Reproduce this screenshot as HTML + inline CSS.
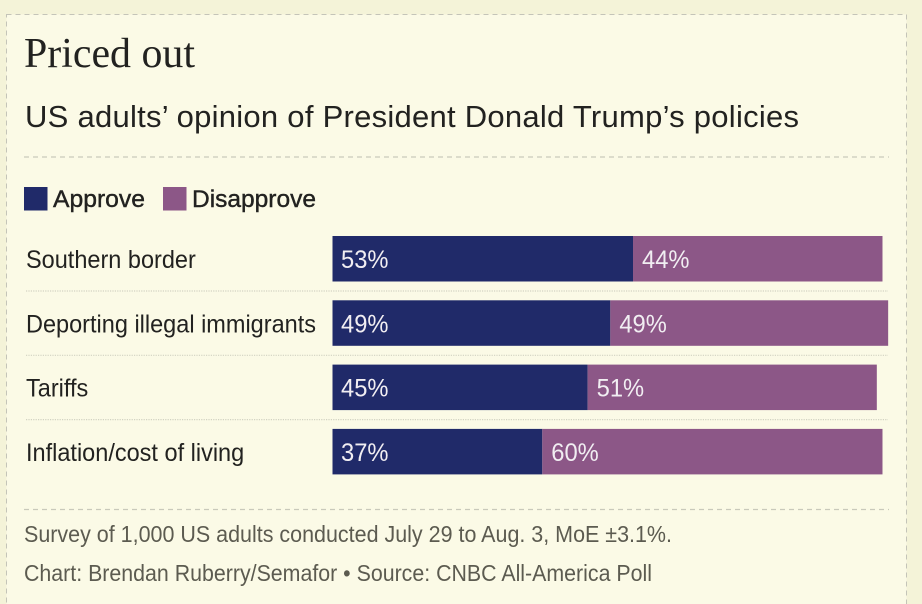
<!DOCTYPE html>
<html lang="en">
<head>
<meta charset="utf-8">
<title>Priced out</title>
<style>
html,body{margin:0;padding:0;width:922px;height:604px;overflow:hidden;background:#f4f3d8;}
svg{display:block;}
text{font-family:"Liberation Sans",sans-serif;}
</style>
</head>
<body>
<svg id="chart" xmlns="http://www.w3.org/2000/svg" width="922" height="604" viewBox="0 0 922 604">
  <rect x="0" y="0" width="922" height="604" fill="#f4f3d8"/>
  <rect x="6.5" y="14.5" width="900" height="600" fill="#fbfae6" stroke="#c4c4b8" stroke-width="1" stroke-dasharray="5 4"/>
  <text x="24" y="67" font-size="42" textLength="171" lengthAdjust="spacingAndGlyphs" style="font-family:'Liberation Serif',serif" fill="#222220">Priced out</text>
  <text x="25" y="127" font-size="31" textLength="774" lengthAdjust="spacing" fill="#222220">US adults’ opinion of President Donald Trump’s policies</text>
  <line x1="24" y1="157" x2="889" y2="157" stroke="#c9c9bb" stroke-width="1.2" stroke-dasharray="5 4"/>
  <rect x="24" y="187" width="23.5" height="23.5" fill="#202a69"/>
  <text x="53" y="207" font-size="24" textLength="92" lengthAdjust="spacingAndGlyphs" fill="#222220" stroke="#222220" stroke-width="0.4">Approve</text>
  <rect x="163" y="187" width="23.5" height="23.5" fill="#8c5787"/>
  <text x="192" y="207" font-size="24" textLength="124" lengthAdjust="spacingAndGlyphs" fill="#222220" stroke="#222220" stroke-width="0.4">Disapprove</text>
  <g id="rows"></g>
  <line x1="24" y1="509.5" x2="889" y2="509.5" stroke="#c9c9bb" stroke-width="1.2" stroke-dasharray="5 4"/>
  <text x="24" y="542" font-size="23" textLength="648" lengthAdjust="spacingAndGlyphs" fill="#5c5b50">Survey of 1,000 US adults conducted July 29 to Aug. 3, MoE ±3.1%.</text>
  <text x="24" y="581" font-size="23" textLength="628" lengthAdjust="spacingAndGlyphs" fill="#5c5b50">Chart: Brendan Ruberry/Semafor • Source: CNBC All-America Poll</text>
</svg>
<script>
const categories = ["Southern border", "Deporting illegal immigrants", "Tariffs", "Inflation/cost of living"];
const approveValues = [53, 49, 45, 37];
const disapproveValues = [44, 49, 51, 60];

const NS = "http://www.w3.org/2000/svg";
const rowsGroup = document.getElementById("rows");
const barLeft = 332.5;
const pxPerPercent = 5.67;
const rowTop = 236;
const rowStep = 64.3;
const barHeight = 45.5;
const xScale = function (v) { return barLeft + v * pxPerPercent; };
const yScale = function (i) { return rowTop + i * rowStep; };

function condense(el, factor) {
  const w = el.getComputedTextLength();
  el.setAttribute("textLength", (w * factor).toFixed(1));
  el.setAttribute("lengthAdjust", "spacingAndGlyphs");
}

categories.forEach(function (name, i) {
  const y = yScale(i);
  const baseline = y + 32;

  const label = document.createElementNS(NS, "text");
  
  
  label.setAttribute("x", 26);
  label.setAttribute("y", baseline);
  label.setAttribute("font-size", 25);
  label.setAttribute("fill", "#222220");
  label.textContent = name;
  rowsGroup.appendChild(label);
  condense(label, 0.94);

  const approveEnd = xScale(approveValues[i]);
  const disapproveEnd = xScale(approveValues[i] + disapproveValues[i]);

  const approveBar = document.createElementNS(NS, "rect");
  
  
  approveBar.setAttribute("x", barLeft);
  approveBar.setAttribute("y", y);
  approveBar.setAttribute("width", approveEnd - barLeft);
  approveBar.setAttribute("height", barHeight);
  approveBar.setAttribute("fill", "#202a69");
  rowsGroup.appendChild(approveBar);

  const disapproveBar = document.createElementNS(NS, "rect");
  
  
  disapproveBar.setAttribute("x", approveEnd);
  disapproveBar.setAttribute("y", y);
  disapproveBar.setAttribute("width", disapproveEnd - approveEnd);
  disapproveBar.setAttribute("height", barHeight);
  disapproveBar.setAttribute("fill", "#8c5787");
  rowsGroup.appendChild(disapproveBar);

  const approveText = document.createElementNS(NS, "text");
  
  
  approveText.setAttribute("x", barLeft + 8.5);
  approveText.setAttribute("y", baseline);
  approveText.setAttribute("font-size", 25);
  approveText.setAttribute("fill", "#f1eef2");
  approveText.textContent = approveValues[i] + "%";
  rowsGroup.appendChild(approveText);
  condense(approveText, 0.95);

  const disapproveText = document.createElementNS(NS, "text");
  
  
  disapproveText.setAttribute("x", approveEnd + 9);
  disapproveText.setAttribute("y", baseline);
  disapproveText.setAttribute("font-size", 25);
  disapproveText.setAttribute("fill", "#f1eef2");
  disapproveText.textContent = disapproveValues[i] + "%";
  rowsGroup.appendChild(disapproveText);
  condense(disapproveText, 0.95);

  if (i < categories.length - 1) {
    const sep = document.createElementNS(NS, "line");
    
    
    sep.setAttribute("x1", 26);
    sep.setAttribute("x2", 888);
    sep.setAttribute("y1", y + 55);
    sep.setAttribute("y2", y + 55);
    sep.setAttribute("stroke", "#d2d2c2");
    sep.setAttribute("stroke-width", 1.2);
    sep.setAttribute("stroke-dasharray", "1.2 1.2");
    rowsGroup.appendChild(sep);
  }
});
</script>
</body>
</html>
